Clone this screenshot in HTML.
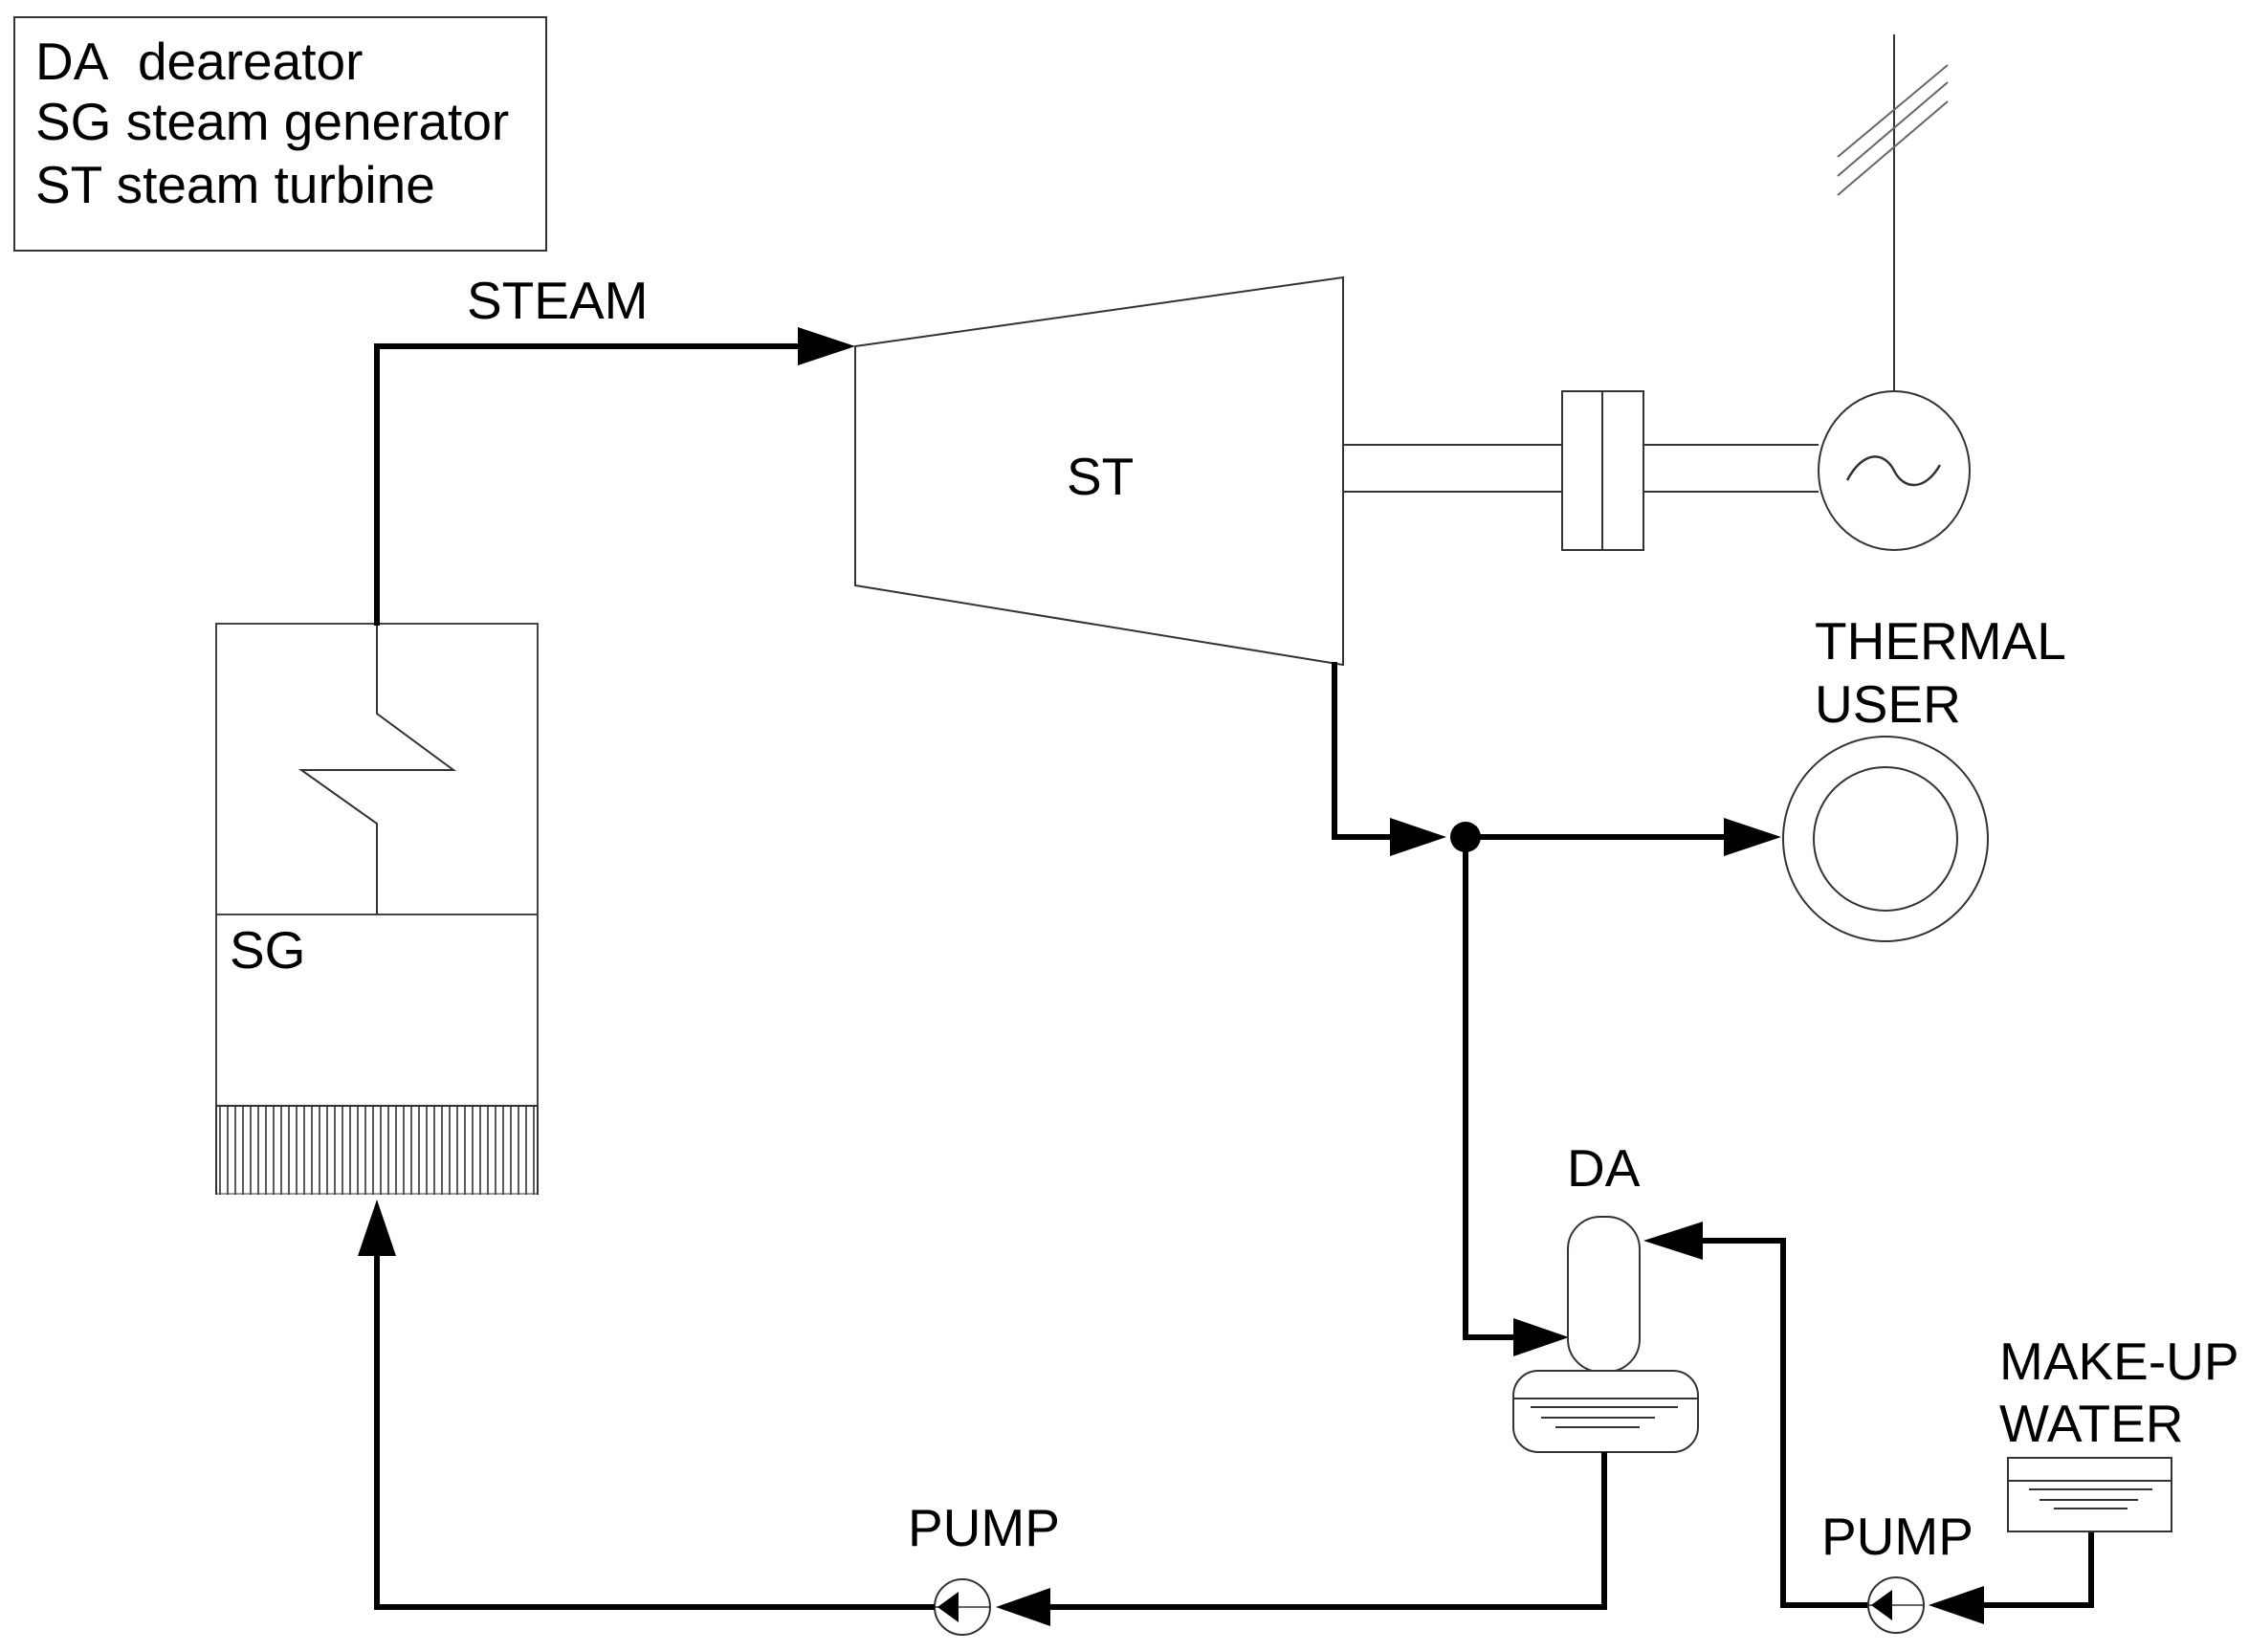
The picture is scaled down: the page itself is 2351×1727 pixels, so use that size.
<!DOCTYPE html>
<html><head><style>
html,body{margin:0;padding:0;background:#fff;}
svg{display:block;}
text{font-family:"Liberation Sans",Arial,sans-serif;font-size:55px;fill:#000;}
</style></head><body>
<svg width="2351" height="1727" viewBox="0 0 2351 1727" xmlns="http://www.w3.org/2000/svg">
<defs>
<pattern id="hatch" x="226" y="0" width="8" height="10" patternUnits="userSpaceOnUse">
<line x1="4" y1="0" x2="4" y2="10" stroke="#333" stroke-width="1.6"/>
</pattern>
</defs>
<!-- legend -->
<rect x="15" y="18" width="556" height="244" fill="none" stroke="#333" stroke-width="2"/>
<text x="37" y="83">DA&#160; deareator</text>
<text x="37" y="146">SG steam generator</text>
<text x="37" y="212">ST steam turbine</text>

<!-- SG -->
<rect x="226" y="652" width="336" height="504" fill="none" stroke="#444" stroke-width="2"/>
<line x1="226" y1="956" x2="562" y2="956" stroke="#444" stroke-width="2"/>
<rect x="226" y="1156" width="336" height="93" fill="url(#hatch)" stroke="none"/>
<line x1="226" y1="1156" x2="562" y2="1156" stroke="#333" stroke-width="2"/>
<line x1="226" y1="1156" x2="226" y2="1249" stroke="#333" stroke-width="2"/>
<line x1="562" y1="1156" x2="562" y2="1249" stroke="#333" stroke-width="2"/>
<line x1="226" y1="1248" x2="562" y2="1248" stroke="#333" stroke-width="1"/>
<polyline points="394,652 394,746 474,805 315,805 394,861 394,956" fill="none" stroke="#333" stroke-width="2"/>
<text x="240" y="1012">SG</text>

<!-- steam line -->
<polyline points="394,654 394,362 840,362" fill="none" stroke="#000" stroke-width="6"/>
<polygon points="834,342 894,362 834,382" fill="#000"/>
<text x="488" y="333">STEAM</text>

<!-- turbine -->
<polygon points="894,362 1404,290 1404,695 894,612" fill="none" stroke="#333" stroke-width="2"/>
<text x="1115" y="517">ST</text>

<!-- shaft & coupling -->
<line x1="1404" y1="465" x2="1633" y2="465" stroke="#333" stroke-width="2"/>
<line x1="1404" y1="514" x2="1633" y2="514" stroke="#333" stroke-width="2"/>
<rect x="1633" y="409" width="85" height="166" fill="none" stroke="#333" stroke-width="2"/>
<line x1="1675" y1="409" x2="1675" y2="575" stroke="#333" stroke-width="2"/>
<line x1="1718" y1="465" x2="1901" y2="465" stroke="#333" stroke-width="2"/>
<line x1="1718" y1="514" x2="1901" y2="514" stroke="#333" stroke-width="2"/>
<ellipse cx="1980" cy="492" rx="79" ry="83" fill="#fff" stroke="#333" stroke-width="2"/>
<path d="M1931,502 C1948,470 1970,472 1980,492 C1990,512 2012,514 2028,486" fill="none" stroke="#333" stroke-width="2.5"/>
<line x1="1980" y1="409" x2="1980" y2="36" stroke="#333" stroke-width="2"/>
<line x1="1921" y1="164" x2="2036" y2="68" stroke="#666" stroke-width="2"/>
<line x1="1921" y1="184" x2="2036" y2="86" stroke="#666" stroke-width="2"/>
<line x1="1921" y1="204" x2="2036" y2="106" stroke="#666" stroke-width="2"/>

<!-- exhaust -->
<polyline points="1395,692 1395,875 1460,875" fill="none" stroke="#000" stroke-width="6"/>
<polygon points="1453,855 1512,875 1453,895" fill="#000"/>
<circle cx="1532" cy="875" r="16" fill="#000"/>
<line x1="1532" y1="875" x2="1810" y2="875" stroke="#000" stroke-width="6"/>
<polygon points="1802,855 1862,875 1802,895" fill="#000"/>

<!-- thermal user -->
<circle cx="1971" cy="877" r="107" fill="none" stroke="#333" stroke-width="2"/>
<circle cx="1971" cy="877" r="75" fill="none" stroke="#333" stroke-width="2"/>
<text x="1897" y="689">THERMAL</text>
<text x="1897" y="755">USER</text>

<!-- to DA -->
<polyline points="1532,875 1532,1398 1590,1398" fill="none" stroke="#000" stroke-width="6"/>
<polygon points="1582,1378 1640,1398 1582,1418" fill="#000"/>

<!-- DA -->
<rect x="1639" y="1272" width="75" height="162" rx="34" ry="34" fill="#fff" stroke="#333" stroke-width="2"/>
<rect x="1582" y="1433" width="193" height="85" rx="26" ry="26" fill="#fff" stroke="#333" stroke-width="2"/>
<line x1="1582" y1="1462" x2="1775" y2="1462" stroke="#333" stroke-width="2"/>
<line x1="1600" y1="1471" x2="1754" y2="1471" stroke="#333" stroke-width="2"/>
<line x1="1611" y1="1482" x2="1730" y2="1482" stroke="#333" stroke-width="2"/>
<line x1="1626" y1="1492" x2="1714" y2="1492" stroke="#333" stroke-width="2"/>
<text x="1638" y="1240">DA</text>

<!-- makeup into DA -->
<polyline points="1775,1297 1864,1297 1864,1678 1953,1678" fill="none" stroke="#000" stroke-width="6"/>
<polygon points="1780,1277 1718,1297 1780,1317" fill="#000"/>

<!-- pump 2 -->
<circle cx="1982" cy="1678" r="29" fill="#fff" stroke="#333" stroke-width="2"/>
<line x1="1953" y1="1678" x2="2011" y2="1678" stroke="#333" stroke-width="1.5"/>
<polygon points="1956,1678 1978,1662 1978,1694" fill="#000"/>
<polyline points="2186,1599 2186,1678 2066,1678" fill="none" stroke="#000" stroke-width="6"/>
<polygon points="2074,1658 2016,1678 2074,1698" fill="#000"/>
<text x="1904" y="1625">PUMP</text>

<!-- makeup tank -->
<rect x="2099" y="1524" width="171" height="77" fill="#fff" stroke="#333" stroke-width="2"/>
<line x1="2099" y1="1548" x2="2270" y2="1548" stroke="#333" stroke-width="2"/>
<line x1="2121" y1="1557" x2="2250" y2="1557" stroke="#333" stroke-width="2"/>
<line x1="2132" y1="1568" x2="2235" y2="1568" stroke="#333" stroke-width="2"/>
<line x1="2147" y1="1577" x2="2224" y2="1577" stroke="#333" stroke-width="2"/>
<text x="2090" y="1442">MAKE-UP</text>
<text x="2090" y="1507">WATER</text>

<!-- DA outlet to pump 1 -->
<polyline points="1677,1518 1677,1680 1090,1680" fill="none" stroke="#000" stroke-width="6"/>
<polygon points="1098,1660 1041,1680 1098,1700" fill="#000"/>
<circle cx="1006" cy="1680" r="29" fill="#fff" stroke="#333" stroke-width="2"/>
<line x1="977" y1="1680" x2="1035" y2="1680" stroke="#333" stroke-width="1.5"/>
<polygon points="980,1680 1002,1664 1002,1696" fill="#000"/>
<text x="949" y="1616">PUMP</text>

<!-- feed to SG -->
<polyline points="977,1680 394,1680 394,1305" fill="none" stroke="#000" stroke-width="6"/>
<polygon points="374,1313 394,1254 414,1313" fill="#000"/>
</svg>
</body></html>
